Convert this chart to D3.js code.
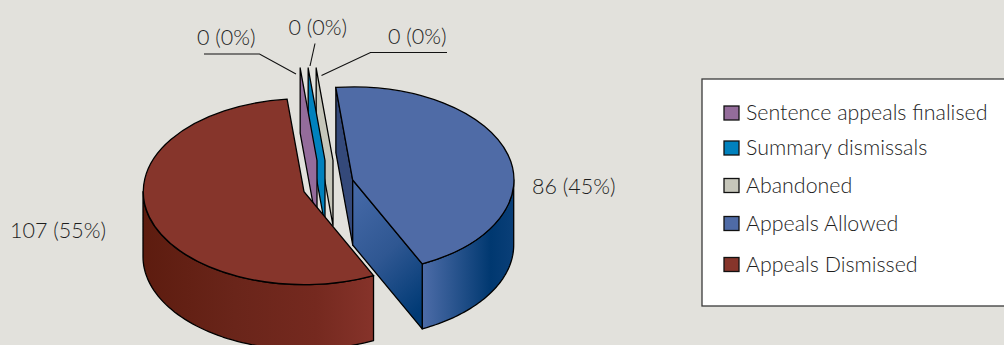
<!DOCTYPE html>
<html><head><meta charset="utf-8">
<script src="https://cdn.jsdelivr.net/npm/d3@7"></script>
<style>html,body{margin:0;padding:0;background:#e2e1dc;overflow:hidden}svg{display:block}
text{font-family:Lato,"Open Sans",sans-serif;font-weight:300;fill:#1e1e1e}</style>
</head><body><svg id="c" width="1004" height="345"></svg>
<script>
const categories = ["Sentence appeals finalised","Summary dismissals","Abandoned","Appeals Allowed","Appeals Dismissed"];
const values = [0,0,0,86,107];
const topColors = ["#946c9b","#0081bd","#c6c6ba","#4f6ba6","#86352b"];

const RX=161, RY=93, DEPTH=65;
const rad=d=>d*Math.PI/180;
const centers=[[317,160.5],[325,160.5],[333,160.5],[352.7,180],[304,191.7]];
const labelPos=[[197,45],[288.5,35],[388,44],[532,194],[10,238]];
const legendRows=[120,155,192.5,230.5,271.5];
const leaders=[
  [[204,54],[259.5,54],[296,74]],
  [[315,43.5],[310,66]],
  [[447,52.5],[370.5,52.5],[321.5,75.5]]];

const svg=d3.select("#c");
const total=d3.sum(values);
const pie=d3.pie().sort(null).value(d=>d).startAngle(rad(-6)).endAngle(rad(354));
const arcs=pie(values);
const sx=d3.scaleLinear().domain([-1,1]).range([-RX,RX]);
const sy=d3.scaleLinear().domain([-1,1]).range([-RY,RY]);
const outer=(c,t,dz=0)=>[c[0]+sx(Math.sin(t)),c[1]+sy(-Math.cos(t))+dz];
const line=d3.line();
const closed=p=>line(p)+"Z";

const defs=svg.append("defs");
function grad(id,stops,x1,y1,x2,y2){
  const g=defs.append("linearGradient").attr("id",id).attr("x1",x1).attr("y1",y1).attr("x2",x2).attr("y2",y2);
  stops.forEach(s=>g.append("stop").attr("offset",s[0]).attr("stop-color",s[1]));
}
grad("blueWall",[[0,"#4d6ca8"],[0.3,"#2f5892"],[0.75,"#003870"],[1,"#0a3f78"]],0,0,1,0);
grad("redWall",[[0,"#5d1c0f"],[0.4,"#6a251a"],[0.75,"#75291f"],[1,"#86332a"]],0,0,1,0);
grad("blueFace",[[0,"#4468a6"],[0.5,"#2f5792"],[1,"#003a75"]],0.25,0,0.7,1);

svg.append("rect").attr("width",1004).attr("height",345).attr("fill","#e2e1dc");
const S={stroke:"#000","stroke-width":1.3,"stroke-linejoin":"round"};
const apply=(s,o)=>{Object.entries(o).forEach(([k,v])=>s.attr(k,v));return s;};
const g=svg.append("g");

function wall(c,a0,a1,fill){
  const from=Math.max(a0,Math.PI/2), to=Math.min(a1,3*Math.PI/2);
  const ts=d3.range(0,61).map(i=>from+(to-from)*i/60);
  const topEdge=ts.map(t=>outer(c,t));
  const botEdge=ts.map(t=>outer(c,t,DEPTH)).reverse();
  apply(g.append("path").attr("d",closed(topEdge.concat(botEdge))).attr("fill",fill),S);
}
function cutFace(c,t,fill){
  apply(g.append("path").attr("d",closed([outer(c,t),c,[c[0],c[1]+DEPTH],outer(c,t,DEPTH)])).attr("fill",fill),S);
}
function topFace(c,a,fill){
  const p=d3.arc().innerRadius(0).outerRadius(1).startAngle(a.startAngle).endAngle(a.endAngle)();
  g.append("path").attr("d",p).attr("transform",`translate(${c[0]},${c[1]}) scale(${RX},${RY})`)
   .attr("fill",fill).attr("stroke","#000").attr("stroke-width",1.3).attr("vector-effect","non-scaling-stroke");
}
// zero-value slices: only their cut faces show (drawn back to front)
[2,1,0].forEach(i=>cutFace(centers[i],arcs[i].startAngle,topColors[i]));
// Appeals Allowed
cutFace(centers[3],arcs[3].startAngle,"#34497a");
wall(centers[3],arcs[3].startAngle,arcs[3].endAngle,"url(#blueWall)");
cutFace(centers[3],arcs[3].endAngle,"url(#blueFace)");
topFace(centers[3],arcs[3],topColors[3]);
// Appeals Dismissed
wall(centers[4],arcs[4].startAngle,arcs[4].endAngle,"url(#redWall)");
topFace(centers[4],arcs[4],topColors[4]);

// leaders
leaders.forEach(l=>svg.append("path").attr("d",line(l)).attr("fill","none").attr("stroke","#111").attr("stroke-width",1.1));
// labels
values.forEach((v,i)=>svg.append("text").attr("x",labelPos[i][0]).attr("y",labelPos[i][1])
  .attr("font-size",21.5).text(`${v} (${Math.round(v/total*100)}%)`));
// legend
svg.append("rect").attr("x",702).attr("y",79).attr("width",320).attr("height",227)
  .attr("fill","#fff").attr("stroke","#3a3a3a").attr("stroke-width",1.3);
const leg=svg.selectAll(".leg").data(categories).join("g").attr("class","leg");
leg.append("rect").attr("x",724).attr("width",15).attr("height",14)
  .attr("y",(d,i)=>legendRows[i]-14).attr("fill",(d,i)=>topColors[i]).attr("stroke","#111").attr("stroke-width",1.3);
leg.append("text").attr("x",746).attr("y",(d,i)=>legendRows[i]).attr("font-size",21.4).text(d=>d);
</script></body></html>
